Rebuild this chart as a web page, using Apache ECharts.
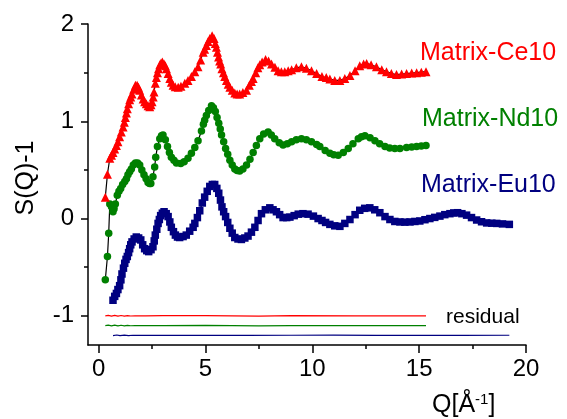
<!DOCTYPE html>
<html>
<head>
<meta charset="utf-8">
<script src="https://cdn.jsdelivr.net/npm/echarts@6/dist/echarts.min.js"></script>
<style>html,body{margin:0;padding:0;background:#fff;}#c{width:567px;height:419px;}</style>
</head>
<body>
<div id="c"></div>
<script>
// ---- data ----
const qCe10 = [0.31,0.41,0.52,0.60,0.67,0.75,0.83,0.90,0.98,1.06,1.14,1.20,1.25,1.30,1.34,1.40,1.45,1.50,1.56,1.64,1.72,1.80,1.86,1.92,2.00,2.08,2.15,2.23,2.31,2.39,2.45,2.50,2.55,2.59,2.65,2.70,2.75,2.80,2.86,2.92,2.98,3.06,3.12,3.17,3.25,3.33,3.40,3.48,3.58,3.72,3.85,4.03,4.18,4.34,4.50,4.65,4.77,4.89,4.96,5.04,5.12,5.20,5.31,5.40,5.46,5.51,5.56,5.61,5.66,5.71,5.77,5.84,5.90,5.98,6.06,6.14,6.25,6.37,6.48,6.60,6.75,6.92,7.05,7.15,7.23,7.35,7.45,7.54,7.65,7.81,7.95,8.09,8.25,8.40,8.55,8.71,8.87,9.03,9.25,9.49,9.72,9.96,10.2,10.45,10.65,10.82,11.05,11.29,11.52,11.76,12.0,12.22,12.4,12.54,12.75,13.0,13.25,13.47,13.7,13.94,14.18,14.41,14.65,14.88,15.1,15.32];
const sCe10 = [0.22,0.455,0.62,0.65,0.68,0.715,0.75,0.79,0.84,0.89,0.94,0.99,1.04,1.085,1.13,1.18,1.22,1.25,1.28,1.33,1.37,1.37,1.35,1.32,1.27,1.23,1.20,1.18,1.16,1.15,1.17,1.20,1.25,1.30,1.39,1.45,1.50,1.54,1.58,1.60,1.61,1.59,1.57,1.54,1.49,1.44,1.40,1.37,1.355,1.35,1.36,1.39,1.42,1.46,1.51,1.56,1.63,1.71,1.74,1.78,1.82,1.85,1.88,1.85,1.80,1.76,1.71,1.66,1.62,1.59,1.54,1.50,1.46,1.42,1.38,1.35,1.32,1.29,1.28,1.28,1.295,1.32,1.37,1.41,1.44,1.50,1.55,1.58,1.61,1.635,1.62,1.59,1.555,1.52,1.51,1.51,1.52,1.53,1.55,1.56,1.545,1.52,1.49,1.46,1.45,1.435,1.42,1.42,1.44,1.47,1.52,1.57,1.59,1.595,1.58,1.56,1.53,1.51,1.49,1.48,1.485,1.49,1.495,1.50,1.505,1.51];

const qNd10 = [0.31,0.41,0.47,0.52,0.60,0.67,0.72,0.78,0.87,0.95,1.03,1.12,1.22,1.30,1.37,1.45,1.53,1.62,1.72,1.82,1.92,2.02,2.12,2.22,2.31,2.38,2.44,2.54,2.62,2.67,2.75,2.86,2.94,3.01,3.12,3.22,3.31,3.40,3.52,3.64,3.84,4.0,4.18,4.34,4.50,4.65,4.81,4.90,4.96,5.04,5.15,5.28,5.37,5.46,5.54,5.62,5.69,5.75,5.85,5.94,6.04,6.14,6.25,6.37,6.48,6.60,6.75,6.92,7.08,7.23,7.38,7.54,7.72,7.93,8.08,8.24,8.45,8.63,8.83,9.03,9.25,9.49,9.72,9.96,10.2,10.35,10.6,10.82,11.0,11.21,11.45,11.68,11.9,12.15,12.3,12.46,12.7,12.93,13.15,13.4,13.62,13.86,14.1,14.41,14.65,14.88,15.1,15.32];
const sNd10 = [-0.63,-0.39,-0.15,0.15,0.12,0.07,0.10,0.15,0.24,0.28,0.31,0.35,0.38,0.41,0.45,0.48,0.51,0.55,0.57,0.57,0.55,0.50,0.45,0.41,0.37,0.36,0.36,0.43,0.53,0.63,0.74,0.82,0.85,0.86,0.81,0.74,0.68,0.63,0.60,0.57,0.565,0.585,0.62,0.67,0.73,0.80,0.90,0.97,1.01,1.06,1.11,1.16,1.14,1.10,1.04,0.98,0.92,0.86,0.79,0.72,0.66,0.60,0.55,0.51,0.495,0.49,0.51,0.55,0.61,0.68,0.75,0.82,0.87,0.89,0.86,0.82,0.78,0.755,0.77,0.79,0.81,0.82,0.81,0.79,0.76,0.74,0.70,0.67,0.655,0.65,0.68,0.72,0.77,0.82,0.84,0.85,0.83,0.80,0.77,0.74,0.725,0.72,0.72,0.73,0.735,0.74,0.745,0.75];

const qEu10 = [0.67,0.75,0.83,0.90,0.98,1.04,1.09,1.16,1.22,1.28,1.34,1.40,1.45,1.50,1.56,1.66,1.76,1.87,1.97,2.06,2.15,2.25,2.34,2.45,2.54,2.60,2.65,2.72,2.78,2.84,2.90,2.98,3.06,3.16,3.25,3.33,3.40,3.50,3.59,3.69,3.79,3.95,4.10,4.26,4.42,4.50,4.62,4.73,4.85,4.96,5.08,5.20,5.32,5.43,5.53,5.62,5.70,5.77,5.85,5.94,6.04,6.14,6.25,6.37,6.52,6.68,6.84,6.99,7.15,7.31,7.46,7.62,7.80,8.01,8.16,8.32,8.47,8.63,8.80,8.95,9.15,9.34,9.56,9.80,10.05,10.27,10.45,10.62,10.82,11.05,11.29,11.52,11.76,12.0,12.22,12.45,12.69,12.92,13.16,13.4,13.63,13.86,14.1,14.33,14.57,14.8,15.03,15.27,15.5,15.73,15.97,16.2,16.44,16.62,16.8,17.0,17.22,17.45,17.69,17.92,18.16,18.4,18.63,18.9,19.22];
const sEu10 = [-0.84,-0.80,-0.77,-0.73,-0.69,-0.63,-0.57,-0.51,-0.46,-0.42,-0.39,-0.35,-0.31,-0.27,-0.24,-0.21,-0.19,-0.20,-0.22,-0.27,-0.31,-0.33,-0.34,-0.32,-0.29,-0.23,-0.17,-0.11,-0.05,-0.01,0.03,0.055,0.07,0.05,0.02,-0.035,-0.09,-0.135,-0.17,-0.19,-0.195,-0.185,-0.17,-0.13,-0.09,-0.05,0.01,0.08,0.16,0.22,0.28,0.33,0.35,0.35,0.31,0.26,0.19,0.12,0.07,0.02,-0.04,-0.10,-0.15,-0.195,-0.21,-0.215,-0.20,-0.18,-0.14,-0.09,-0.02,0.05,0.09,0.11,0.09,0.07,0.04,0.01,0.01,0.015,0.03,0.045,0.05,0.045,0.025,0.0,-0.02,-0.04,-0.06,-0.075,-0.08,-0.05,-0.01,0.04,0.085,0.105,0.11,0.09,0.06,0.02,-0.01,-0.03,-0.035,-0.037,-0.035,-0.03,-0.025,-0.012,0.0,0.012,0.025,0.04,0.05,0.058,0.06,0.05,0.035,0.01,-0.015,-0.033,-0.045,-0.048,-0.05,-0.055,-0.06];

const qResCe = [0.31,0.45,0.6,0.75,0.9,1.05,1.2,1.35,1.5,1.7,2.2,3.0,5.0,7.5,9.0,12.0,15.32];
const resCe  = [-1.0,-0.996,-1.004,-0.996,-1.004,-0.997,-1.003,-0.998,-1.002,-1.0,-1.0,-0.999,-0.998,-1.003,-0.999,-1.0,-1.001];
const qResNd = [0.31,0.45,0.6,0.75,0.9,1.05,1.2,1.35,1.5,1.7,2.2,3.0,5.0,7.5,9.0,12.0,15.32];
const resNd  = [-1.1,-1.096,-1.104,-1.096,-1.104,-1.097,-1.103,-1.098,-1.102,-1.1,-1.1,-1.1,-1.098,-1.103,-1.1,-1.1,-1.1];
const qResEu = [0.67,0.85,1.0,1.2,1.4,1.6,2.0,3.0,5.0,7.0,9.0,11.0,13.0,15.0,17.0,19.22];
const resEu  = [-1.203,-1.197,-1.204,-1.198,-1.203,-1.2,-1.202,-1.2,-1.201,-1.202,-1.2,-1.199,-1.201,-1.2,-1.201,-1.2];

const xMajor = [0,5,10,15,20];
const xMinor = [2.5,7.5,12.5,17.5];
const yMajor = [-1,0,1,2];
const yMinor = [-0.5,0.5,1.5];

const seriesNames = ['Matrix-Ce10','Matrix-Nd10','Matrix-Eu10'];
const seriesColors = ['#ff0000','#008000','#000080'];

// ---- build ----
const zip = (a,b) => a.map((v,i)=>[v,b[i]]);
const FONT = '"Liberation Sans", Arial, sans-serif';
const chart = echarts.init(document.getElementById('c'), null, {renderer:'canvas'});

function dataSeries(name, q, s, color, symbol, size){
  return {name, type:'line', data:zip(q,s), xAxisIndex:0, yAxisIndex:0,
    symbol, symbolSize:size, showAllSymbol:true, z:3,
    itemStyle:{color, borderWidth:0},
    lineStyle:{color:'#000', width:1.2}};
}
function resSeries(q, s, color){
  return {type:'line', data:zip(q,s), xAxisIndex:0, yAxisIndex:0, symbol:'none', z:2,
    lineStyle:{color, width:1.2}};
}
const axisLineStyle = {color:'#000', width:1.5};

chart.setOption({
  animation:false,
  backgroundColor:'#fff',
  grid:{left:88, right:41, top:24, bottom:74},
  xAxis:[
    {type:'value', min:-0.5, max:20, position:'bottom',
     axisLine:{onZero:false, lineStyle:axisLineStyle},
     axisTick:{customValues:xMajor, length:8, lineStyle:axisLineStyle},
     axisLabel:{customValues:xMajor, fontSize:24, color:'#000', margin:12, fontFamily:FONT},
     splitLine:{show:false}},
    {type:'value', min:-0.5, max:20, position:'bottom',
     axisLine:{show:false, onZero:false},
     axisTick:{customValues:xMinor, length:4, lineStyle:axisLineStyle},
     axisLabel:{show:false}, splitLine:{show:false}}
  ],
  yAxis:[
    {type:'value', min:-1.3, max:2, position:'left',
     axisLine:{show:true, onZero:false, lineStyle:axisLineStyle},
     axisTick:{show:true, customValues:yMajor, length:7, lineStyle:axisLineStyle},
     axisLabel:{customValues:yMajor, fontSize:24, color:'#000', margin:14, fontFamily:FONT},
     splitLine:{show:false}},
    {type:'value', min:-1.3, max:2, position:'left',
     axisLine:{show:false, onZero:false},
     axisTick:{show:true, customValues:yMinor, length:4, lineStyle:axisLineStyle},
     axisLabel:{show:false}, splitLine:{show:false}}
  ],
  series:[
    resSeries(qResCe, resCe, seriesColors[0]),
    resSeries(qResNd, resNd, seriesColors[1]),
    resSeries(qResEu, resEu, seriesColors[2]),
    dataSeries(seriesNames[2], qEu10, sEu10, seriesColors[2], 'rect', 7.5),
    dataSeries(seriesNames[1], qNd10, sNd10, seriesColors[1], 'circle', 7.5),
    dataSeries(seriesNames[0], qCe10, sCe10, seriesColors[0], 'triangle', 9)
  ],
  graphic:[
    {type:'text', x:420, y:53, style:{text:seriesNames[0], fill:seriesColors[0], font:'25px '+FONT, textAlign:'left', textVerticalAlign:'middle'}},
    {type:'text', x:422, y:119, style:{text:seriesNames[1], fill:seriesColors[1], font:'25px '+FONT, textAlign:'left', textVerticalAlign:'middle'}},
    {type:'text', x:421, y:185, style:{text:seriesNames[2], fill:seriesColors[2], font:'25px '+FONT, textAlign:'left', textVerticalAlign:'middle'}},
    {type:'text', x:446, y:317, style:{text:'residual', fill:'#000', font:'21px '+FONT, textAlign:'left', textVerticalAlign:'middle'}},
    {type:'text', x:26, y:178, rotation:Math.PI/2, style:{text:'S(Q)-1', fill:'#000', font:'25px '+FONT, textAlign:'center', textVerticalAlign:'middle'}},
    {type:'text', x:432, y:405, style:{
      text:'{a|Q[Å}{s|-1}{a|]}', textAlign:'left', textVerticalAlign:'middle',
      rich:{a:{fontSize:25, fontFamily:FONT, fill:'#000'}, s:{fontSize:15, fontFamily:FONT, fill:'#000', verticalAlign:'top', padding:[0,0,10,0]}}}}
  ]
});
</script>
</body>
</html>
